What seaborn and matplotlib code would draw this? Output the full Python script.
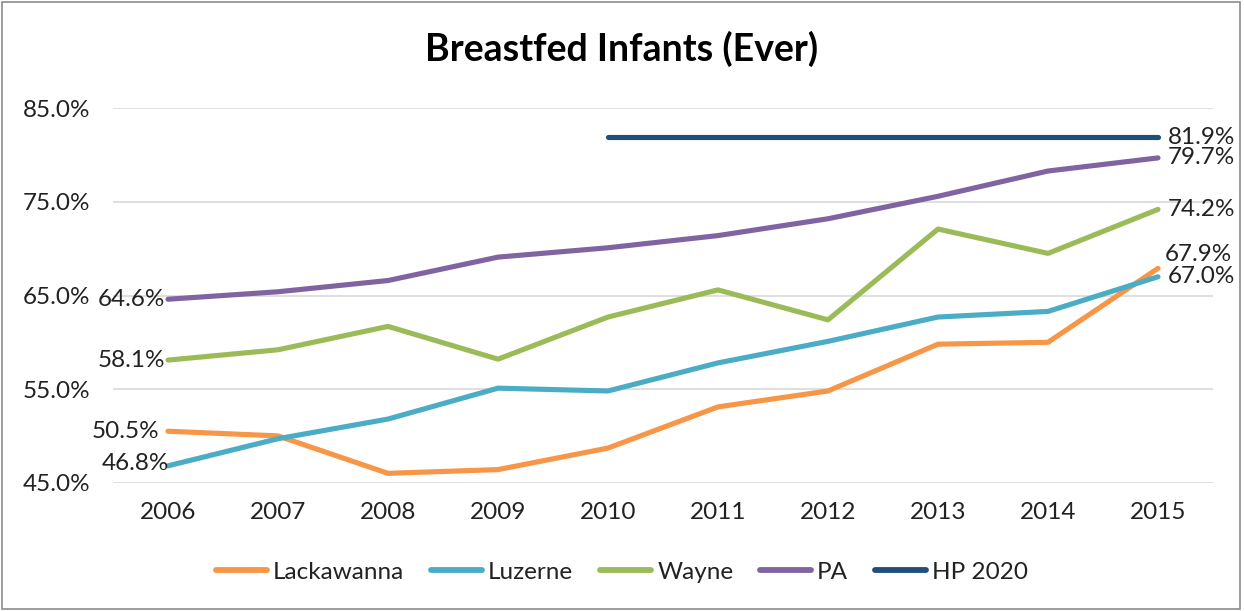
import matplotlib
matplotlib.use("Agg")
import matplotlib.pyplot as plt
from matplotlib.lines import Line2D
from matplotlib.patches import Rectangle
import seaborn as sns
import pandas as pd

years = [2006, 2007, 2008, 2009, 2010, 2011, 2012, 2013, 2014, 2015]
lackawanna = [50.5, 50.0, 46.0, 46.4, 48.7, 53.1, 54.8, 59.8, 60.0, 67.9]
luzerne = [46.8, 49.7, 51.8, 55.1, 54.8, 57.8, 60.1, 62.7, 63.3, 67.0]
wayne = [58.1, 59.2, 61.7, 58.2, 62.7, 65.6, 62.4, 72.1, 69.5, 74.2]
pa = [64.6, 65.4, 66.6, 69.1, 70.1, 71.4, 73.2, 75.6, 78.3, 79.7]
hp_years = [2010, 2011, 2012, 2013, 2014, 2015]
hp2020 = [81.9, 81.9, 81.9, 81.9, 81.9, 81.9]

series_names = ["Lackawanna", "Luzerne", "Wayne", "PA", "HP 2020"]
colors = ["#F79646", "#4BACC6", "#9BBB59", "#8064A2", "#1F4E79"]
y_ticks = [45.0, 55.0, 65.0, 75.0, 85.0]

rows = []
for name, xs, vals in [("Lackawanna", years, lackawanna), ("Luzerne", years, luzerne),
                       ("Wayne", years, wayne), ("PA", years, pa),
                       ("HP 2020", hp_years, hp2020)]:
    for x, v in zip(xs, vals):
        rows.append({"Year": x, "Value": v, "Series": name})
df = pd.DataFrame(rows)

sns.set_theme(style="white")
plt.rcParams["font.family"] = ["Lato", "DejaVu Sans"]

FS = 17.5
TXT = "#222222"

fig = plt.figure(figsize=(12.44, 6.11), dpi=100)
ax = fig.add_axes([113 / 1244, 1 - 482.7 / 611, 1100 / 1244, (482.7 - 108.3) / 611])

palette = dict(zip(series_names, colors))
sns.lineplot(data=df, x="Year", y="Value", hue="Series", hue_order=series_names,
             palette=palette, linewidth=3.7, legend=False, ax=ax,
             solid_capstyle="round", solid_joinstyle="round")

ax.set_xlim(2005.5, 2015.5)
ax.set_ylim(45, 85)
ax.set_yticks(y_ticks)
ax.set_yticklabels([f"{t:.1f}%" for t in y_ticks], fontsize=FS, color=TXT)
ax.set_xticks(years)
ax.set_xticklabels([str(y) for y in years], fontsize=FS, color=TXT)
ax.tick_params(axis="y", length=0, pad=16.5)
ax.tick_params(axis="x", length=0, pad=14)
ax.set_xlabel("")
ax.set_ylabel("")
ax.grid(axis="y", color="#D9D9D9", linewidth=1.2)
ax.set_axisbelow(True)
for s in ax.spines.values():
    s.set_visible(False)

lab_kw = dict(fontsize=FS, color=TXT, va="center", textcoords="offset points")
# start-of-series labels
ax.annotate(f"{pa[0]:.1f}%", (years[0], pa[0]), xytext=(-2, 0), ha="right", **lab_kw)
ax.annotate(f"{wayne[0]:.1f}%", (years[0], wayne[0]), xytext=(-2, 0), ha="right", **lab_kw)
ax.annotate(f"{lackawanna[0]:.1f}%", (years[0], lackawanna[0]), xytext=(-6, 0), ha="right", **lab_kw)
ax.annotate(f"{luzerne[0]:.1f}%", (years[0], luzerne[0]), xytext=(1, 2), ha="right", **lab_kw)
# end-of-series labels
ax.annotate(f"{hp2020[-1]:.1f}%", (hp_years[-1], hp2020[-1]), xytext=(7, 0), ha="left", **lab_kw)
ax.annotate(f"{pa[-1]:.1f}%", (years[-1], pa[-1]), xytext=(7, 0), ha="left", **lab_kw)
ax.annotate(f"{wayne[-1]:.1f}%", (years[-1], wayne[-1]), xytext=(7, 0), ha="left", **lab_kw)
ax.annotate(f"{lackawanna[-1]:.1f}%", (years[-1], lackawanna[-1]), xytext=(5, 10), ha="left", **lab_kw)
ax.annotate(f"{luzerne[-1]:.1f}%", (years[-1], luzerne[-1]), xytext=(7, 0), ha="left", **lab_kw)

fig.text(0.5, 1 - 49 / 611, "Breastfed Infants (Ever)", ha="center", va="center",
         fontsize=27, fontweight="bold", color="#000000")

handles = [Line2D([0], [0], color=c, linewidth=4.2, solid_capstyle="round") for c in colors]
fig.legend(handles, series_names, loc="center", bbox_to_anchor=(0.5, 1 - 572 / 611),
           ncol=5, frameon=False, fontsize=FS, handlelength=2.1, handletextpad=0.25,
           columnspacing=1.1, labelcolor=TXT)

fig.patches.append(Rectangle((0.002, 0.003), 0.995, 0.993, transform=fig.transFigure,
                             fill=False, edgecolor="#8C8C8C", linewidth=1.2))

fig.savefig("out.png", dpi=100)
